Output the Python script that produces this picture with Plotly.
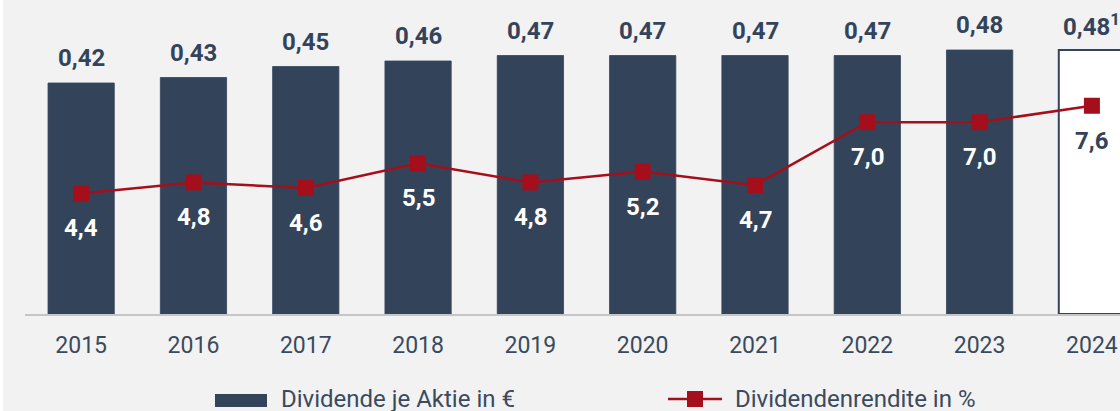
import plotly.graph_objects as go

years = ["2015", "2016", "2017", "2018", "2019", "2020", "2021", "2022", "2023", "2024"]
dividend = [0.42, 0.43, 0.45, 0.46, 0.47, 0.47, 0.47, 0.47, 0.48, 0.48]
dividend_labels = ["0,42", "0,43", "0,45", "0,46", "0,47", "0,47", "0,47", "0,47", "0,48", "0,48<sup>1</sup>"]
yield_pct = [4.4, 4.8, 4.6, 5.5, 4.8, 5.2, 4.7, 7.0, 7.0, 7.6]
yield_labels = ["4,4", "4,8", "4,6", "5,5", "4,8", "5,2", "4,7", "7,0", "7,0", "7,6"]
series_names = ["Dividende je Aktie in €", "Dividendenrendite in %"]

NAVY = "#33445a"
TICK = "#3a4a5e"
RED = "#a50f1b"
BG = "#f2f2f2"
FONT = "Roboto"

W, H = 1120, 411
ML, MR, MT, MB = 25, 0, 0, 97
PW, PH = W - ML - MR, H - MT - MB

x = list(range(len(years)))
proposed = [i == len(years) - 1 for i in x]
fill = ["white" if p else NAVY for p in proposed]

fig = go.Figure()
fig.add_trace(go.Bar(
    x=x, y=dividend, name=series_names[0], width=0.59,
    marker=dict(color=fill, line=dict(color=NAVY, width=[2 if p else 0.8 for p in proposed])),
    showlegend=False, hoverinfo="skip",
))
fig.add_trace(go.Scatter(
    x=x, y=yield_pct, name=series_names[1], yaxis="y2", mode="lines+markers",
    line=dict(color=RED, width=2.5),
    marker=dict(symbol="square", size=16, color=RED),
    showlegend=False, hoverinfo="skip",
))

ann = []
for i, (v, t) in enumerate(zip(dividend, dividend_labels)):
    ann.append(dict(x=i, y=v, xref="x", yref="y", text=t, showarrow=False,
                    yshift=25, font=dict(family=FONT, size=24, color=NAVY, weight="bold")))
for i, (v, t) in enumerate(zip(yield_pct, yield_labels)):
    ann.append(dict(x=i, y=v, xref="x", yref="y2", text=t, showarrow=False,
                    yshift=-35, font=dict(family=FONT, size=24,
                                          color=NAVY if proposed[i] else "white", weight="bold")))

def px_x(p):
    return (p - ML) / PW

def px_y(p):
    return (MT + PH - p) / PH

shapes = [
    dict(type="rect", xref="paper", yref="paper", x0=px_x(215), x1=px_x(267),
         y0=px_y(407), y1=px_y(394), fillcolor=NAVY, line=dict(width=0)),
    dict(type="line", xref="paper", yref="paper", x0=px_x(668), x1=px_x(722),
         y0=px_y(399), y1=px_y(399), line=dict(color=RED, width=2.5)),
    dict(type="rect", xref="paper", yref="paper", x0=px_x(687), x1=px_x(703),
         y0=px_y(407), y1=px_y(391), fillcolor=RED, line=dict(width=0)),
    dict(type="rect", xref="paper", yref="paper", x0=px_x(0), x1=px_x(3),
         y0=px_y(H), y1=px_y(0), fillcolor="white", line=dict(width=0), layer="below"),
]
ann.append(dict(xref="paper", yref="paper", x=px_x(279), y=px_y(399), xanchor="left",
                yanchor="middle", text=series_names[0], showarrow=False,
                font=dict(family=FONT, size=24, color=TICK)))
ann.append(dict(xref="paper", yref="paper", x=px_x(733), y=px_y(399), xanchor="left",
                yanchor="middle", text=series_names[1], showarrow=False,
                font=dict(family=FONT, size=24, color=TICK)))

fig.update_layout(
    width=W, height=H,
    margin=dict(l=ML, r=MR, t=MT, b=MB, pad=0),
    paper_bgcolor=BG, plot_bgcolor=BG,
    font=dict(family=FONT, color=NAVY),
    xaxis=dict(tickmode="array", tickvals=x, ticktext=years, range=[-0.5, 9.25],
               showgrid=False, zeroline=False, showline=True, linecolor="#c6c6c6",
               linewidth=2, ticks="", ticklabelstandoff=9,
               tickfont=dict(family=FONT, size=23, color=TICK)),
    yaxis=dict(range=[0, PH / 550], visible=False, showgrid=False, zeroline=False),
    yaxis2=dict(range=[0, PH / 27.4], overlaying="y", visible=False, showgrid=False, zeroline=False),
    annotations=ann, shapes=shapes,
    bargap=0.4,
)

fig.write_html("out.html", config={"displayModeBar": False},
               post_script="document.body.style.margin='0px';document.body.style.overflow='hidden';")
